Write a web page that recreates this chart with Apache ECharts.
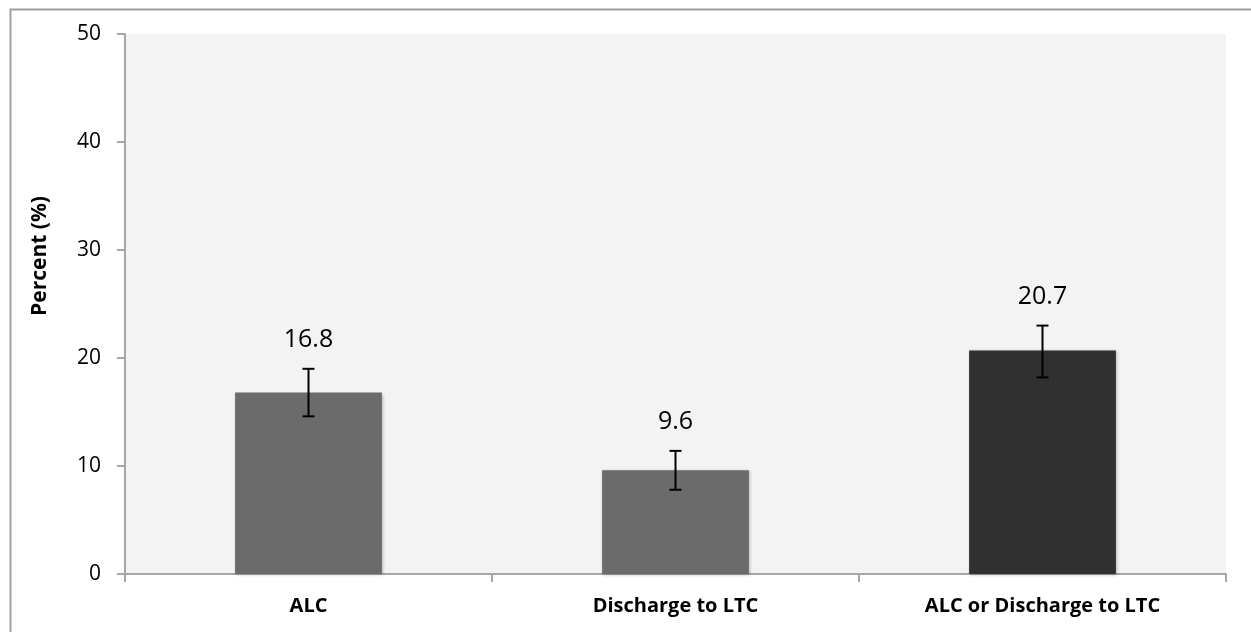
<!DOCTYPE html>
<html>
<head>
<meta charset="utf-8">
<script src="https://cdn.jsdelivr.net/npm/echarts@6/dist/echarts.min.js"></script>
<style>
html,body{margin:0;padding:0;background:#fff;}
#chart{width:1251px;height:632px;}
</style>
</head>
<body>
<div id="chart"></div>
<script>
var categories = ['ALC', 'Discharge to LTC', 'ALC or Discharge to LTC'];
var values = [16.8, 9.6, 20.7];
var errLow = [14.6, 7.8, 18.2];
var errHigh = [19.0, 11.4, 23.0];
var barColors = ['#6b6b6b', '#6b6b6b', '#303030'];
var yTicks = [0, 10, 20, 30, 40, 50];

var chart = echarts.init(document.getElementById('chart'));
var errData = categories.map(function (c, i) { return [i, errLow[i], errHigh[i], values[i]]; });

chart.setOption({
  animation: false,
  graphic: [{
    type: 'rect', left: 8, top: 7, z: -10,
    shape: { width: 1400, height: 800 },
    style: { fill: 'none', stroke: '#a0a0a0', lineWidth: 2 }
  }],
  grid: { left: 125, right: 25, top: 34, bottom: 58, show: true, backgroundColor: '#f3f3f3', borderWidth: 0 },
  xAxis: {
    type: 'category', data: categories, boundaryGap: true,
    axisLine: { lineStyle: { color: '#a6a6a6', width: 2 } },
    axisTick: { show: true, alignWithLabel: false, length: 8, lineStyle: { color: '#a6a6a6', width: 2 } },
    axisLabel: { color: '#000', fontFamily: 'Open Sans', fontWeight: 'bold', fontSize: 20, margin: 22 }
  },
  yAxis: {
    type: 'value', min: 0, max: 50, interval: 10,
    name: 'Percent (%)', nameLocation: 'middle', nameGap: 74, nameRotate: 90,
    nameTextStyle: { color: '#000', fontFamily: 'Open Sans', fontWeight: 'bold', fontSize: 21, padding: [0, 0, 0, 96] },
    axisLine: { show: true, lineStyle: { color: '#a6a6a6', width: 2 } },
    axisTick: { show: true, length: 8, lineStyle: { color: '#a6a6a6', width: 2 } },
    splitLine: { show: false },
    axisLabel: { color: '#000', fontFamily: 'Open Sans', fontSize: 21, margin: 24,
      formatter: function (v) { return yTicks.indexOf(v) >= 0 ? String(v) : ''; } }
  },
  series: [{
    type: 'bar', barWidth: '40%',
    data: values.map(function (v, i) {
      return { value: v, itemStyle: { color: barColors[i], shadowBlur: 3, shadowColor: 'rgba(0,0,0,0.25)', shadowOffsetX: 1, shadowOffsetY: 1 } };
    })
  }, {
    type: 'custom', z: 10,
    data: errData,
    renderItem: function (params, api) {
      var x = api.value(0);
      var lo = api.coord([x, api.value(1)]);
      var hi = api.coord([x, api.value(2)]);
      var hw = 6;
      var st = { stroke: '#000', lineWidth: 2 };
      return {
        type: 'group',
        children: [
          { type: 'line', shape: { x1: hi[0], y1: hi[1], x2: lo[0], y2: lo[1] }, style: st },
          { type: 'line', shape: { x1: hi[0] - hw, y1: hi[1], x2: hi[0] + hw, y2: hi[1] }, style: st },
          { type: 'line', shape: { x1: lo[0] - hw, y1: lo[1], x2: lo[0] + hw, y2: lo[1] }, style: st },
          { type: 'text', x: hi[0], y: hi[1] - 29,
            style: { text: String(api.value(3)), fill: '#000', font: '25px "Open Sans"', align: 'center', verticalAlign: 'middle' } }
        ]
      };
    }
  }]
});
</script>
</body>
</html>
